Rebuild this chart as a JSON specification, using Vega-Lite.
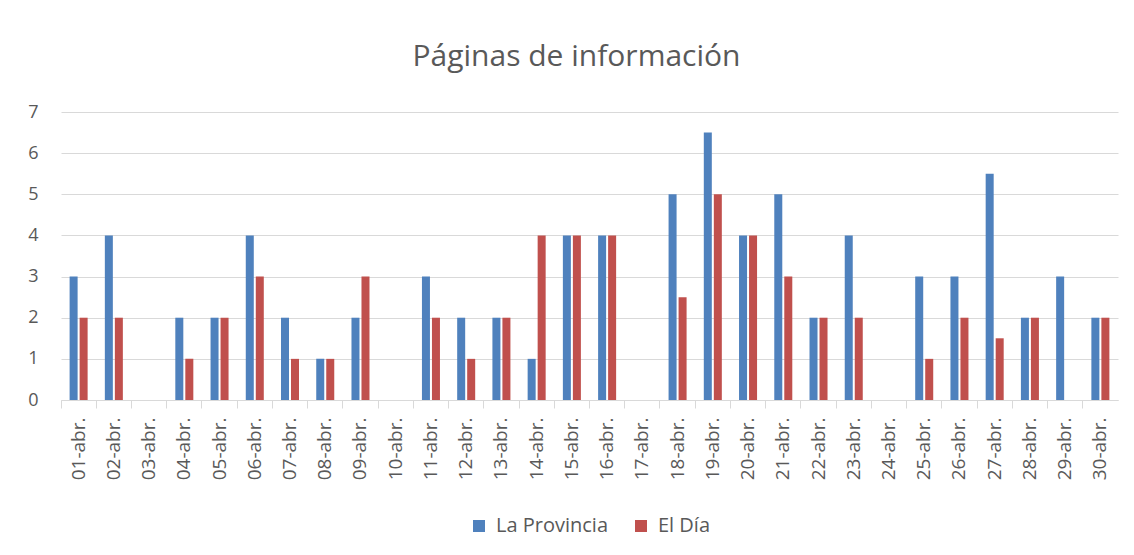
{
  "$schema": "https://vega.github.io/schema/vega-lite/v6.json",
  "autosize": {"type": "none"},
  "padding": {"left": 61, "top": 112, "right": 16, "bottom": 155},
  "width": 1057,
  "height": 288,
  "background": "white",
  "title": {
    "text": "Páginas de información",
    "font": "Open Sans",
    "fontSize": 30,
    "fontWeight": "normal",
    "color": "#595959",
    "anchor": "middle",
    "offset": 31,
    "dx": -13
  },
  "data": {
    "values": [
      {"dia": "01-abr.", "medio": "La Provincia", "paginas": 3}, {"dia": "01-abr.", "medio": "El Día", "paginas": 2},
      {"dia": "02-abr.", "medio": "La Provincia", "paginas": 4}, {"dia": "02-abr.", "medio": "El Día", "paginas": 2},
      {"dia": "03-abr.", "medio": "La Provincia", "paginas": 0}, {"dia": "03-abr.", "medio": "El Día", "paginas": 0},
      {"dia": "04-abr.", "medio": "La Provincia", "paginas": 2}, {"dia": "04-abr.", "medio": "El Día", "paginas": 1},
      {"dia": "05-abr.", "medio": "La Provincia", "paginas": 2}, {"dia": "05-abr.", "medio": "El Día", "paginas": 2},
      {"dia": "06-abr.", "medio": "La Provincia", "paginas": 4}, {"dia": "06-abr.", "medio": "El Día", "paginas": 3},
      {"dia": "07-abr.", "medio": "La Provincia", "paginas": 2}, {"dia": "07-abr.", "medio": "El Día", "paginas": 1},
      {"dia": "08-abr.", "medio": "La Provincia", "paginas": 1}, {"dia": "08-abr.", "medio": "El Día", "paginas": 1},
      {"dia": "09-abr.", "medio": "La Provincia", "paginas": 2}, {"dia": "09-abr.", "medio": "El Día", "paginas": 3},
      {"dia": "10-abr.", "medio": "La Provincia", "paginas": 0}, {"dia": "10-abr.", "medio": "El Día", "paginas": 0},
      {"dia": "11-abr.", "medio": "La Provincia", "paginas": 3}, {"dia": "11-abr.", "medio": "El Día", "paginas": 2},
      {"dia": "12-abr.", "medio": "La Provincia", "paginas": 2}, {"dia": "12-abr.", "medio": "El Día", "paginas": 1},
      {"dia": "13-abr.", "medio": "La Provincia", "paginas": 2}, {"dia": "13-abr.", "medio": "El Día", "paginas": 2},
      {"dia": "14-abr.", "medio": "La Provincia", "paginas": 1}, {"dia": "14-abr.", "medio": "El Día", "paginas": 4},
      {"dia": "15-abr.", "medio": "La Provincia", "paginas": 4}, {"dia": "15-abr.", "medio": "El Día", "paginas": 4},
      {"dia": "16-abr.", "medio": "La Provincia", "paginas": 4}, {"dia": "16-abr.", "medio": "El Día", "paginas": 4},
      {"dia": "17-abr.", "medio": "La Provincia", "paginas": 0}, {"dia": "17-abr.", "medio": "El Día", "paginas": 0},
      {"dia": "18-abr.", "medio": "La Provincia", "paginas": 5}, {"dia": "18-abr.", "medio": "El Día", "paginas": 2.5},
      {"dia": "19-abr.", "medio": "La Provincia", "paginas": 6.5}, {"dia": "19-abr.", "medio": "El Día", "paginas": 5},
      {"dia": "20-abr.", "medio": "La Provincia", "paginas": 4}, {"dia": "20-abr.", "medio": "El Día", "paginas": 4},
      {"dia": "21-abr.", "medio": "La Provincia", "paginas": 5}, {"dia": "21-abr.", "medio": "El Día", "paginas": 3},
      {"dia": "22-abr.", "medio": "La Provincia", "paginas": 2}, {"dia": "22-abr.", "medio": "El Día", "paginas": 2},
      {"dia": "23-abr.", "medio": "La Provincia", "paginas": 4}, {"dia": "23-abr.", "medio": "El Día", "paginas": 2},
      {"dia": "24-abr.", "medio": "La Provincia", "paginas": 0}, {"dia": "24-abr.", "medio": "El Día", "paginas": 0},
      {"dia": "25-abr.", "medio": "La Provincia", "paginas": 3}, {"dia": "25-abr.", "medio": "El Día", "paginas": 1},
      {"dia": "26-abr.", "medio": "La Provincia", "paginas": 3}, {"dia": "26-abr.", "medio": "El Día", "paginas": 2},
      {"dia": "27-abr.", "medio": "La Provincia", "paginas": 5.5}, {"dia": "27-abr.", "medio": "El Día", "paginas": 1.5},
      {"dia": "28-abr.", "medio": "La Provincia", "paginas": 2}, {"dia": "28-abr.", "medio": "El Día", "paginas": 2},
      {"dia": "29-abr.", "medio": "La Provincia", "paginas": 3}, {"dia": "29-abr.", "medio": "El Día", "paginas": 0},
      {"dia": "30-abr.", "medio": "La Provincia", "paginas": 2}, {"dia": "30-abr.", "medio": "El Día", "paginas": 2}
    ]
  },
  "mark": {"type": "bar"},
  "encoding": {
    "x": {
      "field": "dia",
      "type": "nominal",
      "sort": null,
      "scale": {"paddingInner": 0, "paddingOuter": 0},
      "axis": {
        "title": null,
        "labelAngle": -90,
        "labelFont": "Open Sans",
        "labelFontSize": 19,
        "labelColor": "#595959",
        "labelPadding": 9,
        "tickSize": 8,
        "tickColor": "#d9d9d9",
        "domainColor": "#d9d9d9",
        "bandPosition": 0,
        "grid": false
      }
    },
    "xOffset": {
      "field": "medio",
      "type": "nominal",
      "sort": ["La Provincia", "El Día"],
      "scale": {"paddingInner": 0.2, "paddingOuter": 0.86}
    },
    "y": {
      "field": "paginas",
      "type": "quantitative",
      "scale": {"domain": [0, 7], "nice": false},
      "axis": {
        "title": null,
        "values": [0, 1, 2, 3, 4, 5, 6, 7],
        "domain": false,
        "ticks": false,
        "labelFont": "Open Sans",
        "labelFontSize": 18,
        "labelColor": "#595959",
        "labelPadding": 23,
        "gridColor": "#d9d9d9",
        "gridWidth": 1
      }
    },
    "color": {
      "field": "medio",
      "type": "nominal",
      "sort": ["La Provincia", "El Día"],
      "scale": {"domain": ["La Provincia", "El Día"], "range": ["#4F81BD", "#C0504D"]},
      "legend": {
        "title": null,
        "orient": "bottom",
        "direction": "horizontal",
        "symbolType": "square",
        "symbolSize": 144,
        "symbolStrokeWidth": 0,
        "labelFont": "Open Sans",
        "labelFontSize": 20,
        "labelColor": "#595959",
        "labelOffset": 7,
        "columnPadding": 22,
        "offset": 36
      }
    }
  },
  "config": {
    "view": {"stroke": null},
    "legend": {"layout": {"bottom": {"anchor": "middle"}}}
  }
}
